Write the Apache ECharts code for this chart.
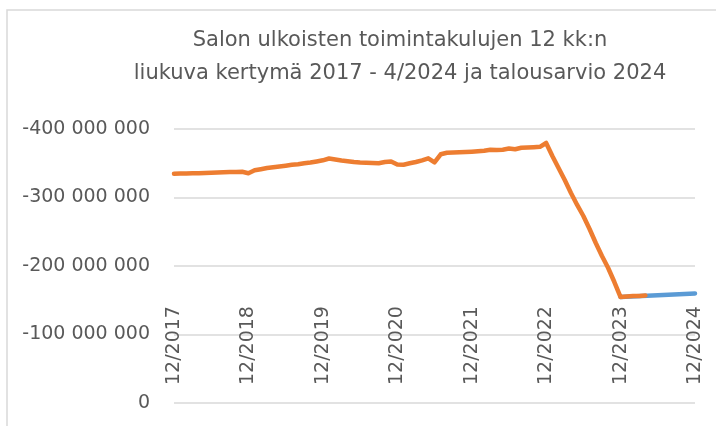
<!DOCTYPE html>
<html>
<head>
<meta charset="utf-8">
<script src="https://cdn.jsdelivr.net/npm/echarts@6/dist/echarts.min.js"></script>
<style>
  html, body { margin: 0; padding: 0; background: #fff; }
  #chart { width: 716px; height: 426px; }
</style>
</head>
<body>
<div id="chart"></div>
<script>
// kuukaudet 12/2017 - 12/2024
var months = []
for (var y = 2017; y <= 2024; y++) {
  for (var m = 1; m <= 12; m++) {
    if (y === 2017 && m < 12) continue
    months.push(m + '/' + y)
  }
}

// toteuma, milj. euroa (12/2017 - 4/2024)
var actualM = [
  -334.7, -335.0, -335.0, -335.3, -335.3, -335.8, -336.1, -336.5, -336.8, -337.2, -337.2, -337.5,
  -335.5, -339.7, -341.3, -343.1, -344.2, -345.3, -346.4, -347.7, -348.6, -349.9, -351.1, -352.6,
  -354.3, -356.9, -355.5, -354.0, -353.0, -351.8, -351.1, -350.7, -350.4, -350.1, -351.8, -352.6,
  -348.2, -347.9, -349.9, -351.8, -354.3, -357.2, -351.4, -363.1, -365.3, -365.7, -366.0, -366.4,
  -366.9, -367.6, -368.2, -369.6, -369.3, -369.8, -371.5, -370.4, -372.6, -373.0, -373.4, -374.0,
  -379.6, -360.6, -343.1, -325.5, -306.6, -289.1, -273.0, -254.0, -233.6, -214.6, -197.1, -176.6,
  -154.7, -155.5, -156.2, -156.2, -156.9
]

// talousarvio 2024, milj. euroa
var budgetMonths = ['12/2023', '12/2024']
var budgetM = [-154.7, -159.9]

var yTicks = [-400000000, -300000000, -200000000, -100000000, 0]

var actualData = months.map(function (m, i) {
  return i < actualM.length ? actualM[i] * 1e6 : null
})
var budgetData = months.map(function (m) {
  var k = budgetMonths.indexOf(m)
  return k >= 0 ? budgetM[k] * 1e6 : null
})

function fmt(v) {
  if (v === 0) return '0'
  var s = String(Math.abs(v)).replace(/\B(?=(\d{3})+(?!\d))/g, ' ')
  return (v < 0 ? '-' : '') + s
}

var myChart = echarts.init(document.getElementById('chart'))
var option = {
  animation: false,
  backgroundColor: '#fff',
  textStyle: { fontFamily: 'DejaVu Sans' },
  graphic: [{
    type: 'rect',
    shape: { x: 7, y: 10, width: 760, height: 440 },
    style: { fill: 'none', stroke: '#D9D9D9', lineWidth: 1.5 },
    silent: true
  }],
  title: {
    text: 'Salon ulkoisten toimintakulujen 12 kk:n\nliukuva kertymä 2017 - 4/2024 ja talousarvio 2024',
    left: 400,
    top: 24,
    padding: 0,
    textAlign: 'center',
    textStyle: {
      fontSize: 21,
      fontWeight: 'normal',
      color: '#595959',
      lineHeight: 33,
      fontFamily: 'DejaVu Sans'
    }
  },
  grid: { left: 174, right: 21, top: 129, bottom: 23, containLabel: false },
  xAxis: {
    type: 'category',
    data: months,
    boundaryGap: false,
    axisLine: { show: false },
    axisTick: { show: false },
    axisLabel: {
      inside: true,
      rotate: 90,
      margin: 18,
      fontSize: 19,
      color: '#595959',
      hideOverlap: false,
      interval: function (idx, val) { return val.indexOf('12/') === 0 }
    },
    splitLine: { show: false }
  },
  yAxis: {
    type: 'value',
    inverse: true,
    min: yTicks[0],
    max: yTicks[yTicks.length - 1],
    interval: 100000000,
    axisLine: { show: false },
    axisTick: { show: false },
    axisLabel: { margin: 24, fontSize: 19, color: '#595959', formatter: fmt },
    splitLine: { lineStyle: { color: '#D9D9D9', width: 1.5 } }
  },
  series: [
    {
      name: 'Talousarvio 2024',
      type: 'line',
      data: budgetData,
      connectNulls: true,
      showSymbol: false,
      lineStyle: { color: '#5B9BD5', width: 4.5, cap: 'round' },
      z: 2
    },
    {
      name: 'Toteuma',
      type: 'line',
      data: actualData,
      showSymbol: false,
      lineStyle: { color: '#ED7D31', width: 4.5, cap: 'round', join: 'round' },
      z: 3
    }
  ]
}

myChart.setOption(option)
</script>
</body>
</html>
